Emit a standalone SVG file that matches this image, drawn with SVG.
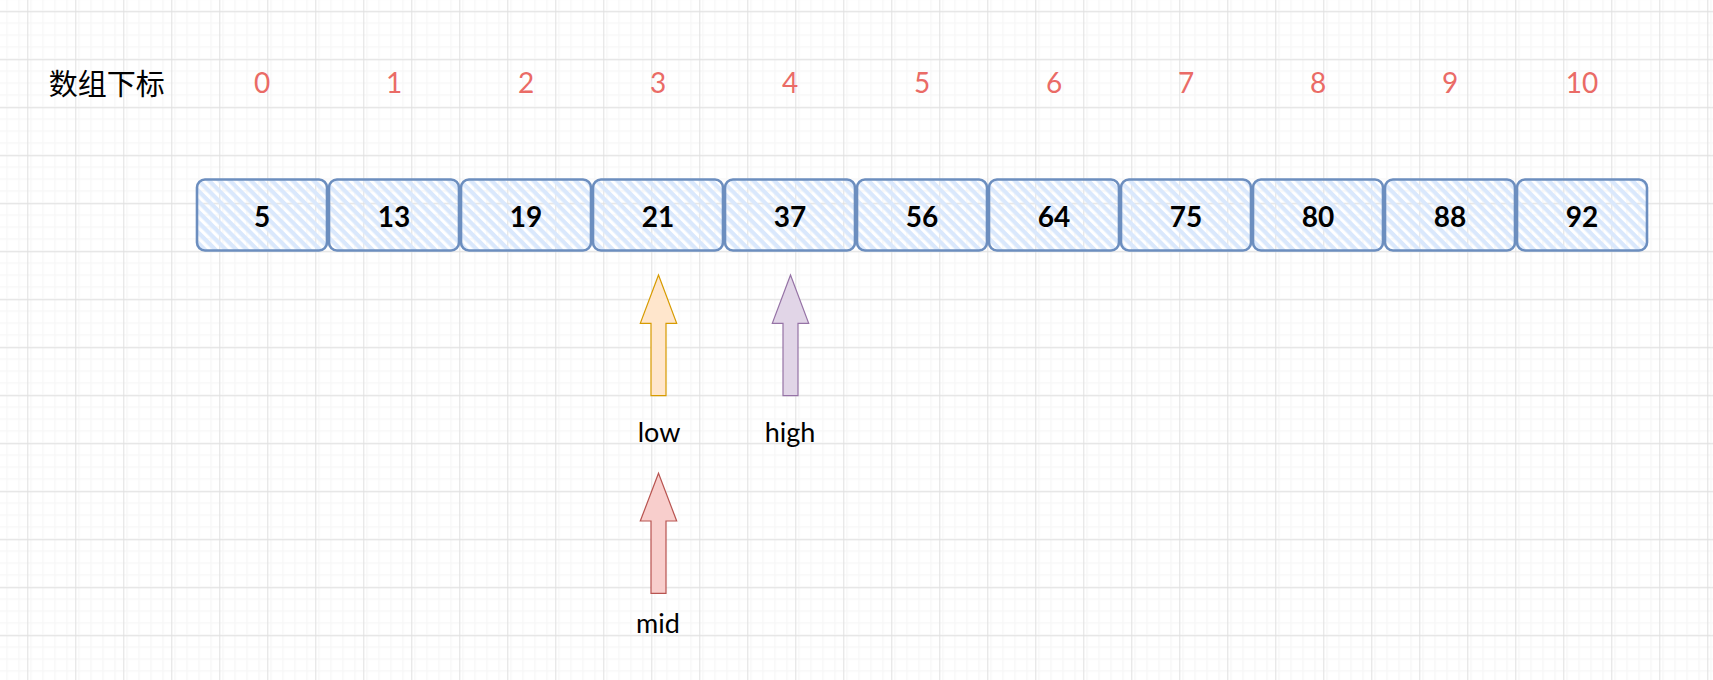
<svg xmlns="http://www.w3.org/2000/svg" width="1713" height="680" viewBox="0 0 1713 680">
  <defs>
    <pattern id="minor" patternUnits="userSpaceOnUse" x="27.3" y="11.3" width="12" height="12">
      <path d="M0 0.5H12M0.5 0V12" fill="none" stroke="#f4f4f4" stroke-width="1"/>
    </pattern>
    <pattern id="major" patternUnits="userSpaceOnUse" x="27.3" y="11.3" width="48" height="48">
      <rect width="48" height="48" fill="url(#minor)"/>
      <path d="M0 0.5H48M0.5 0V48" fill="none" stroke="#e0e0e0" stroke-width="1"/>
    </pattern>
    <pattern id="hatch" patternUnits="userSpaceOnUse" width="7.4" height="7.4" patternTransform="rotate(45)">
      <rect y="0" width="7.4" height="4.2" fill="#dae8fc"/>
    </pattern>
    <style>
      .cell rect { fill: url(#hatch); stroke: #6c8ebf; stroke-width: 2.6; }
      .val { font-family: Lato, "Liberation Sans", sans-serif; font-weight: bold; font-size: 28px; fill: #000; text-anchor: middle; }
      .idx { font-family: Lato, "Liberation Sans", sans-serif; font-size: 28px; fill: #ea6b66; text-anchor: middle; }
      .lbl { font-family: Lato, "Noto Sans", sans-serif; font-size: 27px; fill: #000; text-anchor: middle; }
      .cjk { font-family: "Noto Sans CJK SC", sans-serif; font-size: 29px; fill: #000; text-anchor: middle; }
    </style>
  </defs>
  <rect width="1713" height="680" fill="#ffffff"/>
  <rect width="1713" height="680" fill="url(#major)"/>

  <g id="title"><text class="cjk" x="106.7" y="95">数组下标</text></g>

  <g id="indices">
    <text class="idx" x="262" y="93.3">0</text>
    <text class="idx" x="394" y="93.3">1</text>
    <text class="idx" x="526" y="93.3">2</text>
    <text class="idx" x="658" y="93.3">3</text>
    <text class="idx" x="790" y="93.3">4</text>
    <text class="idx" x="922" y="93.3">5</text>
    <text class="idx" x="1054" y="93.3">6</text>
    <text class="idx" x="1186" y="93.3">7</text>
    <text class="idx" x="1318" y="93.3">8</text>
    <text class="idx" x="1450" y="93.3">9</text>
    <text class="idx" x="1582" y="93.3">10</text>
  </g>

  <g id="cell0" class="cell"><rect x="197" y="179.5" width="130" height="71" rx="8"/><text class="val" x="262" y="226.5">5</text></g>
  <g id="cell1" class="cell"><rect x="329" y="179.5" width="130" height="71" rx="8"/><text class="val" x="394" y="226.5">13</text></g>
  <g id="cell2" class="cell"><rect x="461" y="179.5" width="130" height="71" rx="8"/><text class="val" x="526" y="226.5">19</text></g>
  <g id="cell3" class="cell"><rect x="593" y="179.5" width="130" height="71" rx="8"/><text class="val" x="658" y="226.5">21</text></g>
  <g id="cell4" class="cell"><rect x="725" y="179.5" width="130" height="71" rx="8"/><text class="val" x="790" y="226.5">37</text></g>
  <g id="cell5" class="cell"><rect x="857" y="179.5" width="130" height="71" rx="8"/><text class="val" x="922" y="226.5">56</text></g>
  <g id="cell6" class="cell"><rect x="989" y="179.5" width="130" height="71" rx="8"/><text class="val" x="1054" y="226.5">64</text></g>
  <g id="cell7" class="cell"><rect x="1121" y="179.5" width="130" height="71" rx="8"/><text class="val" x="1186" y="226.5">75</text></g>
  <g id="cell8" class="cell"><rect x="1253" y="179.5" width="130" height="71" rx="8"/><text class="val" x="1318" y="226.5">80</text></g>
  <g id="cell9" class="cell"><rect x="1385" y="179.5" width="130" height="71" rx="8"/><text class="val" x="1450" y="226.5">88</text></g>
  <g id="cell10" class="cell"><rect x="1517" y="179.5" width="130" height="71" rx="8"/><text class="val" x="1582" y="226.5">92</text></g>

  <g id="connectors">
    <polygon id="arrow-low" points="658.5,275 676.7,323.3 666,323.3 666,395.7 651,395.7 651,323.3 640.3,323.3" fill="#ffe6cc" stroke="#d79b00" stroke-width="1.2"/>
    <polygon id="arrow-high" points="790.5,275 808.7,323.3 798,323.3 798,395.7 783,395.7 783,323.3 772.3,323.3" fill="#e1d5e7" stroke="#9673a6" stroke-width="1.2"/>
    <polygon id="arrow-mid" points="658.5,473.3 676.7,521 666,521 666,593.3 651,593.3 651,521 640.3,521" fill="#f8cecc" stroke="#b85450" stroke-width="1.2"/>
  </g>

  <g id="label-low"><text class="lbl" x="659" y="441.5">low</text></g>
  <g id="label-high"><text class="lbl" x="790" y="441.5">high</text></g>
  <g id="label-mid"><text class="lbl" x="658" y="633">mid</text></g>
</svg>
